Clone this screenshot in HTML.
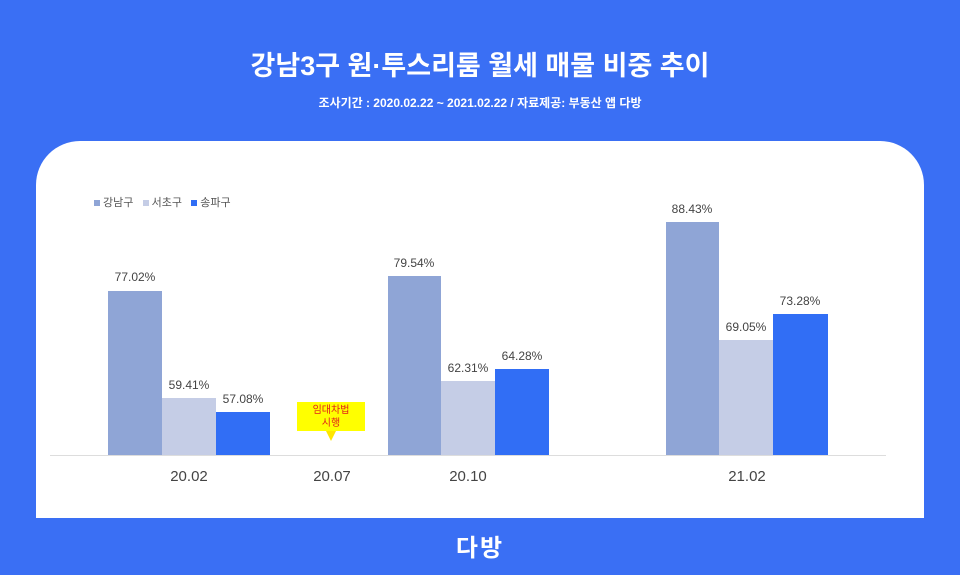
<!DOCTYPE html><html><head><meta charset="utf-8"><style>
body{margin:0;width:960px;height:575px;background:#3a6ff4;position:relative;overflow:hidden;font-family:"Liberation Sans","Noto Sans CJK KR",sans-serif}
.a{position:absolute}
.t{left:0;width:960px;text-align:center;color:#fff;font-weight:bold}
.p{left:36px;top:141px;width:888px;height:377px;background:#fff;border-radius:44px 44px 0 0}
.b{position:absolute}
.l{position:absolute;width:80px;text-align:center;font-size:12px;color:#444}
.x{position:absolute;width:80px;text-align:center;font-size:15px;color:#444}
</style></head><body>
<div class="a t" style="top:44px;font-size:27px">강남3구 원·투스리룸 월세 매물 비중 추이</div>
<div class="a t" style="top:94px;font-size:12px">조사기간 : 2020.02.22 ~ 2021.02.22 / 자료제공: 부동산 앱 다방</div>
<div class="a p"></div>
<div class="a" style="left:94px;top:194px;font-size:11px;color:#555">
<span style="display:inline-block;width:6px;height:6px;background:#8fa5d6"></span> 강남구 &nbsp; <span style="display:inline-block;width:6px;height:6px;background:#c5cde6"></span> 서초구 &nbsp; <span style="display:inline-block;width:6px;height:6px;background:#316ef5"></span> 송파구</div>
<div class="a" style="left:50px;top:455px;width:836px;height:1px;background:#ddd"></div>
<!-- group1 -->
<div class="b" style="left:108px;top:291px;width:54px;height:164px;background:#8fa5d6"></div>
<div class="b" style="left:162px;top:398px;width:54px;height:57px;background:#c5cde6"></div>
<div class="b" style="left:216px;top:412px;width:54px;height:43px;background:#316ef5"></div>
<div class="l" style="left:95px;top:270px">77.02%</div>
<div class="l" style="left:149px;top:378px">59.41%</div>
<div class="l" style="left:203px;top:392px">57.08%</div>
<!-- group2 -->
<div class="b" style="left:388px;top:276px;width:53px;height:179px;background:#8fa5d6"></div>
<div class="b" style="left:441px;top:381px;width:54px;height:74px;background:#c5cde6"></div>
<div class="b" style="left:495px;top:369px;width:54px;height:86px;background:#316ef5"></div>
<div class="l" style="left:374px;top:256px">79.54%</div>
<div class="l" style="left:428px;top:361px">62.31%</div>
<div class="l" style="left:482px;top:349px">64.28%</div>
<!-- group3 -->
<div class="b" style="left:666px;top:222px;width:53px;height:233px;background:#8fa5d6"></div>
<div class="b" style="left:719px;top:340px;width:54px;height:115px;background:#c5cde6"></div>
<div class="b" style="left:773px;top:314px;width:55px;height:141px;background:#316ef5"></div>
<div class="l" style="left:652px;top:202px">88.43%</div>
<div class="l" style="left:706px;top:320px">69.05%</div>
<div class="l" style="left:760px;top:294px">73.28%</div>
<!-- annotation -->
<div class="a" style="left:297px;top:402px;width:68px;height:29px;background:#ffff00;color:#e0201a;font-size:10px;text-align:center;line-height:13px;padding-top:2px;box-sizing:border-box">임대차법<br>시행</div>
<div class="a" style="left:326px;top:431px;width:0;height:0;border-left:5px solid transparent;border-right:5px solid transparent;border-top:10px solid #ffe600"></div>
<div class="x" style="left:149px;top:468px">20.02</div>
<div class="x" style="left:292px;top:468px">20.07</div>
<div class="x" style="left:428px;top:468px">20.10</div>
<div class="x" style="left:707px;top:468px">21.02</div>
<div class="a t" style="top:528px;font-size:24px;letter-spacing:2px">다방</div>
</body></html>
